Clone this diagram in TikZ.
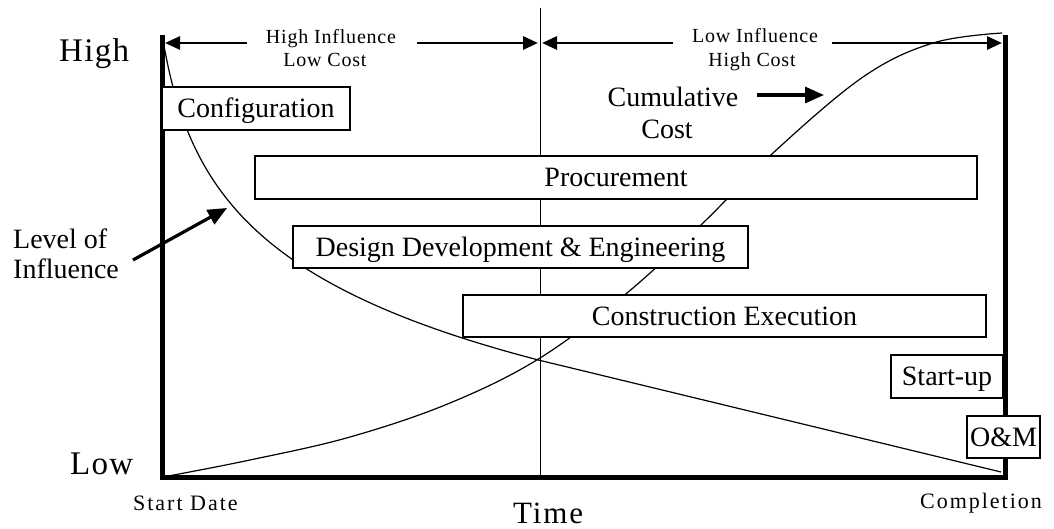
\documentclass[tikz,border=0pt]{standalone}
\usepackage{fontspec}
\setmainfont{Liberation Serif}
\newfontfamily\fsmall{Liberation Serif}[LetterSpace=4]
\newfontfamily\fbot{Liberation Serif}[LetterSpace=9]
\newfontfamily\fbig{Liberation Serif}[LetterSpace=4]
\newfontfamily\ftime{Liberation Serif}[LetterSpace=6]
\usetikzlibrary{arrows.meta}
\tikzset{
  axisline/.style={line width=5pt, line join=miter},
  thinline/.style={line width=1pt},
  curve/.style={line width=1.2pt, line join=round},
  stagebox/.style={draw, fill=white, line width=1.1pt, inner sep=0pt,
    font=\fontsize{28}{30}\selectfont, text height=18.5pt, text depth=0pt, anchor=center},
  lbl/.style={inner sep=0pt, font=\fontsize{28}{30}\selectfont},
  toplbl/.style={inner sep=0pt, anchor=base, font=\fsmall\fontsize{20}{22}\selectfont},
  botlbl/.style={inner sep=0pt, anchor=base west, font=\fbot\fontsize{22}{24}\selectfont},
  biglbl/.style={inner sep=0pt, anchor=base west, font=\fbig\fontsize{33}{35}\selectfont},
  harrow/.style={line width=2.8pt, -{Triangle[length=15pt,width=13pt]}},
  pointer/.style={line width=3.2pt, -{Triangle[length=19pt,width=16pt]}}
}
\begin{document}
\begin{tikzpicture}[x=1pt,y=-1pt]
\useasboundingbox (0,0) rectangle (1054,529);
\fill[white] (0,0) rectangle (1054,529);

% axes
\draw[axisline] (162,35) -- (162,477) -- (1005,477) -- (1005,35);
% middle line
\draw[thinline] (540,8) -- (540,477);

% level of influence curve
\draw[curve] plot[domain=162.6:540, samples=160] (\x, {87+102*ln((\x-146)/27)})
  -- (1001,472);
% cumulative cost curve
\draw[curve] plot[smooth, tension=0.6] coordinates {
  (163,477) (250,460) (350,437) (450,403) (540,358) (627,293)
  (703,223) (773,153) (863,77) (933,43) (1002,33)};

% top labels and arrows
\node[toplbl] (hi1) at (331,44) {High Influence};
\node[toplbl] (hi2) at (325,67) {Low Cost};
\node[toplbl] (li1) at (755,43) {Low Influence};
\node[toplbl] (li2) at (752,67) {High Cost};
\coordinate (a1s) at (247,43); \coordinate (a1e) at (165,43);
\coordinate (a2s) at (417,43); \coordinate (a2e) at (538,43);
\coordinate (a3s) at (673,43); \coordinate (a3e) at (542,43);
\coordinate (a4s) at (832,43); \coordinate (a4e) at (1002,43);
\draw[harrow] (a1s) -- (a1e);
\draw[harrow] (a2s) -- (a2e);
\draw[harrow] (a3s) -- (a3e);
\draw[harrow] (a4s) -- (a4e);

% axis labels
\node[biglbl] (high) at (59,62) {High};
\node[biglbl] (low) at (70,474) {Low};
\node[botlbl] (start) at (133,510) {Start Date};
\node[botlbl] (compl) at (920,508) {Completion};
\node[inner sep=0pt, anchor=base west, font=\ftime\fontsize{31}{33}\selectfont] (time) at (513,523) {Time};

% curve labels
\node[lbl, anchor=base west] (lev1) at (13,248) {Level of};
\node[lbl, anchor=base west] (lev2) at (13,278) {Influence};
\coordinate (levs) at (133,260); \coordinate (leve) at (227,208);
\draw[pointer] (levs) -- (leve);
\node[lbl, anchor=base] (cum1) at (673,107) {Cumulative};
\node[lbl, anchor=base] (cum2) at (667,139) {Cost};
\coordinate (cums) at (757,95); \coordinate (cume) at (824,95);
\draw[pointer] (cums) -- (cume);

% stage boxes
\node[stagebox, minimum width=188pt, minimum height=43pt] (conf) at (256,108.5) {Configuration};
\node[stagebox, minimum width=722pt, minimum height=43pt] (proc) at (616,177.5) {Procurement};
\node[stagebox, minimum width=455pt, minimum height=42pt] (dde) at (520.5,247) {Design Development \& Engineering};
\node[stagebox, minimum width=523pt, minimum height=42pt] (ce) at (724.5,316) {Construction Execution};
\node[stagebox, minimum width=112pt, minimum height=43pt] (su) at (947,376.5) {Start-up};
\node[stagebox, minimum width=73pt, minimum height=42pt] (om) at (1003.5,437) {O\&M};
\end{tikzpicture}
\end{document}
